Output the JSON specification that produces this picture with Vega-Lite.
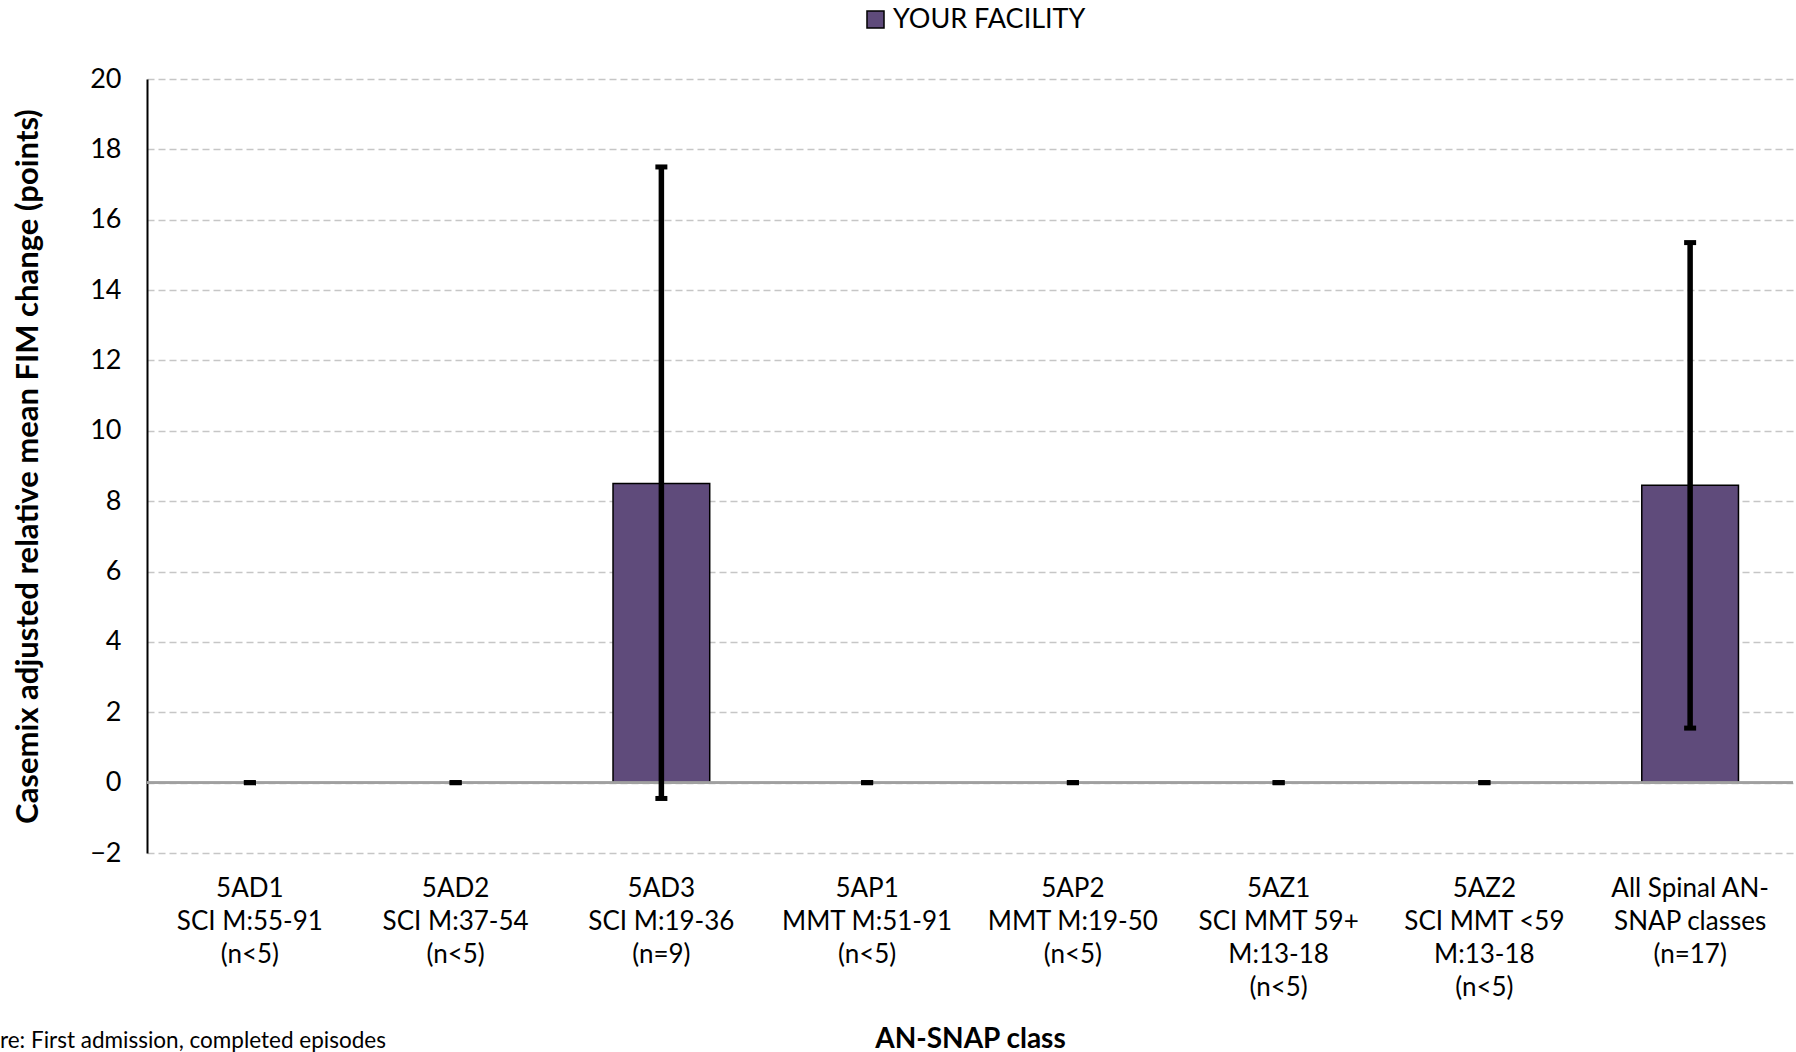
{
  "$schema": "https://vega.github.io/schema/vega-lite/v6.json",
  "width": 1646,
  "height": 774,
  "autosize": "none",
  "padding": {"left": 147, "top": 79, "right": 3, "bottom": 199},
  "background": "white",
  "config": {
    "font": "Lato",
    "view": {"stroke": null},
    "axis": {"labelFont": "Lato", "titleFont": "Lato", "labelColor": "#000000", "titleColor": "#000000"}
  },
  "title": {
    "text": "re: First admission, completed episodes",
    "orient": "bottom",
    "anchor": "start",
    "frame": "group",
    "dx": -147,
    "offset": -23,
    "fontSize": 22.5,
    "fontWeight": "normal",
    "color": "#000000",
    "font": "Lato"
  },
  "data": {
    "values": [
      {"cls": "5AD1|SCI M:55-91|(n<5)", "series": "YOUR FACILITY", "value": null, "lo": 0, "hi": 0},
      {"cls": "5AD2|SCI M:37-54|(n<5)", "series": "YOUR FACILITY", "value": null, "lo": 0, "hi": 0},
      {"cls": "5AD3|SCI M:19-36|(n=9)", "series": "YOUR FACILITY", "value": 8.5, "lo": -0.45, "hi": 17.5},
      {"cls": "5AP1|MMT M:51-91|(n<5)", "series": "YOUR FACILITY", "value": null, "lo": 0, "hi": 0},
      {"cls": "5AP2|MMT M:19-50|(n<5)", "series": "YOUR FACILITY", "value": null, "lo": 0, "hi": 0},
      {"cls": "5AZ1|SCI MMT 59+|M:13-18|(n<5)", "series": "YOUR FACILITY", "value": null, "lo": 0, "hi": 0},
      {"cls": "5AZ2|SCI MMT <59|M:13-18|(n<5)", "series": "YOUR FACILITY", "value": null, "lo": 0, "hi": 0},
      {"cls": "All Spinal AN-|SNAP classes|(n=17)", "series": "YOUR FACILITY", "value": 8.45, "lo": 1.55, "hi": 15.35}
    ]
  },
  "encoding": {
    "x": {
      "field": "cls",
      "type": "nominal",
      "sort": ["5AD1|SCI M:55-91|(n<5)", "5AD2|SCI M:37-54|(n<5)", "5AD3|SCI M:19-36|(n=9)", "5AP1|MMT M:51-91|(n<5)", "5AP2|MMT M:19-50|(n<5)", "5AZ1|SCI MMT 59+|M:13-18|(n<5)", "5AZ2|SCI MMT <59|M:13-18|(n<5)", "All Spinal AN-|SNAP classes|(n=17)"],
      "scale": {"paddingInner": 0.53, "paddingOuter": 0.265},
      "axis": {
        "title": "AN-SNAP class",
        "titleFontSize": 28,
        "titleFontWeight": "bold",
        "titlePadding": 25,
        "labelAngle": 0,
        "labelFontSize": 26,
        "labelLineHeight": 33,
        "labelPadding": 22,
        "labelExpr": "split(datum.label, '|')",
        "domain": false,
        "ticks": false,
        "grid": false
      }
    }
  },
  "layer": [
    {
      "mark": {"type": "bar", "stroke": "#000000", "strokeWidth": 1.5},
      "encoding": {
        "y": {
          "field": "value",
          "type": "quantitative",
          "scale": {"domain": [-2, 20], "nice": false, "zero": false},
          "axis": {
            "title": "Casemix adjusted relative mean FIM change (points)",
            "titleFontSize": 31,
            "titleFontWeight": "bold",
            "titlePadding": 45,
            "values": [-2, 0, 2, 4, 6, 8, 10, 12, 14, 16, 18, 20],
            "labelFontSize": 27,
            "labelPadding": 26,
            "ticks": false,
            "domain": true,
            "domainColor": "#000000",
            "domainWidth": 2,
            "grid": true,
            "gridColor": "#c6c6c6",
            "gridDash": [7, 4],
            "gridWidth": 1.5
          }
        },
        "color": {
          "field": "series",
          "type": "nominal",
          "scale": {"range": ["#5f4b7b"]},
          "legend": {
            "title": null,
            "orient": "none",
            "legendX": 715,
            "legendY": -73,
            "direction": "horizontal",
            "symbolType": "square",
            "symbolSize": 290,
            "symbolStrokeColor": "#000000",
            "symbolStrokeWidth": 1.5,
            "symbolOpacity": 1,
            "labelFontSize": 27,
            "labelLimit": 0,
            "labelColor": "#000000",
            "labelOffset": 4
          }
        }
      }
    },
    {
      "mark": {"type": "rule", "color": "#a0a0a0", "strokeWidth": 2},
      "encoding": {"x": null, "y": {"datum": 0, "type": "quantitative"}}
    },
    {
      "mark": {"type": "rule", "color": "#000000", "strokeWidth": 5.5},
      "encoding": {
        "y": {"field": "lo", "type": "quantitative"},
        "y2": {"field": "hi"}
      }
    },
    {
      "mark": {"type": "tick", "color": "#000000", "size": 12, "thickness": 5, "opacity": 1},
      "encoding": {"y": {"field": "lo", "type": "quantitative"}}
    },
    {
      "mark": {"type": "tick", "color": "#000000", "size": 12, "thickness": 5, "opacity": 1},
      "encoding": {"y": {"field": "hi", "type": "quantitative"}}
    }
  ]
}
